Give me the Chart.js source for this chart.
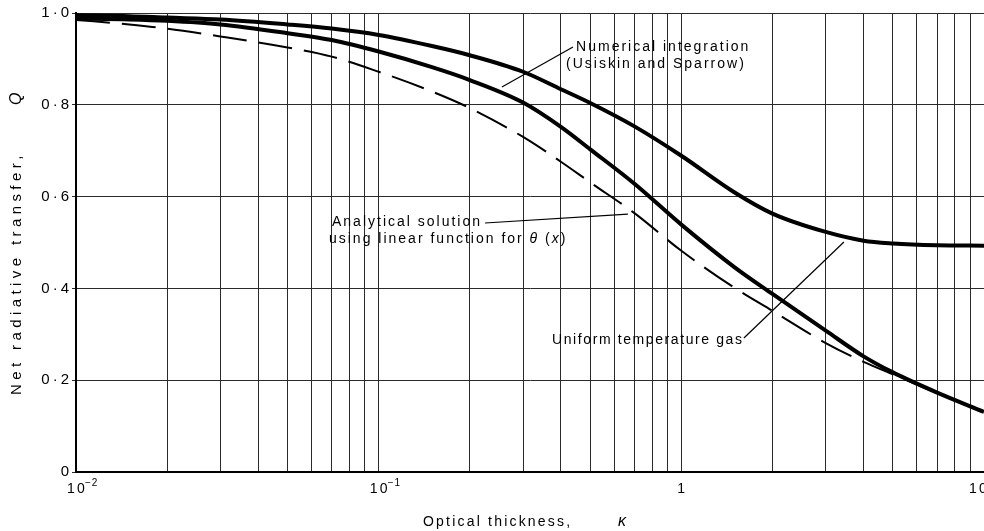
<!DOCTYPE html>
<html>
<head>
<meta charset="utf-8">
<script src="https://cdn.jsdelivr.net/npm/chart.js@4/dist/chart.umd.min.js"></script>
<style>
  html, body { margin: 0; padding: 0; background: #fff; }
  #wrap { width: 984px; height: 531px; }
</style>
</head>
<body>
<div id="wrap"><canvas id="chart" width="984" height="531"></canvas></div>
<script>
// values (kappa on a log axis)
const kappa = [0.01, 0.015, 0.02, 0.03, 0.05, 0.07, 0.1, 0.15, 0.2, 0.3, 0.4, 0.5, 0.7, 1, 1.5, 2, 3, 4, 5, 7, 10]
const uniformGas = [0.995, 0.993, 0.990, 0.986, 0.975, 0.966, 0.952, 0.928, 0.908, 0.872, 0.834, 0.804, 0.753, 0.689, 0.609, 0.563, 0.523, 0.504, 0.498, 0.494, 0.493]
const numerical = [0.988, 0.986, 0.983, 0.975, 0.956, 0.941, 0.916, 0.882, 0.854, 0.805, 0.752, 0.703, 0.628, 0.539, 0.446, 0.388, 0.308, 0.252, 0.217, 0.173, 0.131]
const analytical = [0.985, 0.975, 0.966, 0.949, 0.925, 0.905, 0.872, 0.829, 0.793, 0.730, 0.676, 0.631, 0.564, 0.482, 0.401, 0.351, 0.281, 0.240, 0.213, 0.172, 0.131]

const yTickLabels = ['0', '0·2', '0·4', '0·6', '0·8', '1·0']
const xTickValues = [0.01, 0.1, 1, 10]
const xTickLabels = ['10^-2', '10^-1', '1', '10']

const FONT = '"Liberation Sans", Arial, sans-serif'
const INK = '#000'

const toPoints = ys => kappa.map((k, i) => ({ x: k, y: ys[i] }))

// grid at 1..9 x each decade
const gridValues = []
for (const d of [0.01, 0.1, 1]) {
  for (let m = 1; m <= 9; m++) gridValues.push(+(m * d).toPrecision(3))
}
gridValues.push(10)

// callouts, anchored in data coordinates
const callouts = [
  { lines: [[{ t: 'Numerical integration' }], [{ t: '(Usiskin and Sparrow)' }]],
    at: [0.449, 0.926], indent: [0, -10], spacing: 2.0, leader: [[0.4385, 0.926], [0.2554, 0.839]] },
  { lines: [[{ t: 'Analytical solution' }],
            [{ t: 'using linear function for ' }, { t: 'θ', it: true }, { t: ' (' }, { t: 'x', it: true }, { t: ')' }]],
    at: [0.0701, 0.545], indent: [0, -3], spacing: 2.0, leader: [[0.2245, 0.5425], [0.666, 0.562]] },
  { lines: [[{ t: 'Uniform temperature gas' }]],
    at: [0.3737, 0.2876], indent: [0], spacing: 1.6, leader: [[1.61, 0.292], [3.445, 0.501]] }
]

function drawParts(ctx, parts, x, y, size) {
  let cx = x
  for (const p of parts) {
    ctx.font = (p.it ? 'italic ' : '') + size + 'px ' + FONT
    ctx.fillText(p.t, cx, y)
    cx += ctx.measureText(p.t).width
  }
  return cx
}

const textLayer = {
  id: 'textLayer',
  beforeDraw(chart) {
    chart.ctx.letterSpacing = '3px'
  },
  afterDraw(chart) {
    const { ctx, scales: { x, y }, chartArea } = chart
    ctx.save()
    ctx.fillStyle = INK
    ctx.strokeStyle = INK
    ctx.textBaseline = 'middle'
    ctx.letterSpacing = '2.2px'

    // x tick labels with superscript exponents
    xTickValues.forEach((v, i) => {
      const [base, exp] = xTickLabels[i].split('^')
      ctx.font = '14px ' + FONT
      const bw = ctx.measureText(base).width
      let px = x.getPixelForValue(v)
      px = Math.min(px, chart.width - bw / 2 + 4)
      const ty = chartArea.bottom + 17
      ctx.textAlign = 'left'
      ctx.fillText(base, px - bw / 2 + 1, ty)
      if (exp) {
        ctx.font = '10px ' + FONT
        ctx.letterSpacing = '1px'
        ctx.fillText(exp.replace('-', '−'), px + bw / 2 - 1, ty - 6)
        ctx.letterSpacing = '2.2px'
      }
    })

    // x axis title
    ctx.textAlign = 'left'
    ctx.font = '14px ' + FONT
    ctx.fillText('Optical thickness,', 423, 522)
    ctx.font = 'italic 16px ' + FONT
    ctx.fillText('κ', 618, 522)

    // y axis title
    ctx.save()
    ctx.translate(17, 0)
    ctx.rotate(-Math.PI / 2)
    ctx.letterSpacing = '4.4px'
    ctx.font = '15px ' + FONT
    ctx.fillText('Net radiative transfer,', -395, 0)
    ctx.font = 'italic 16px ' + FONT
    ctx.fillText('Q', -105, 0)
    ctx.restore()

    // callouts
    ctx.lineWidth = 1.2
    for (const c of callouts) {
      const ax = x.getPixelForValue(c.at[0])
      const ay = y.getPixelForValue(c.at[1])
      ctx.letterSpacing = c.spacing + 'px'
      c.lines.forEach((parts, i) => {
        drawParts(ctx, parts, ax + c.indent[i], ay + i * 17, 14)
      })
      const [p0, p1] = c.leader
      ctx.beginPath()
      ctx.moveTo(x.getPixelForValue(p0[0]), y.getPixelForValue(p0[1]))
      ctx.lineTo(x.getPixelForValue(p1[0]), y.getPixelForValue(p1[1]))
      ctx.stroke()
    }
    ctx.restore()
  }
}

const lineStyle = {
  borderColor: '#000',
  pointRadius: 0,
  cubicInterpolationMode: 'monotone',
  fill: false
}

new Chart(document.getElementById('chart'), {
  type: 'line',
  data: {
    datasets: [
      { ...lineStyle, label: 'Uniform temperature gas', data: toPoints(uniformGas), borderWidth: 4 },
      { ...lineStyle, label: 'Numerical integration (Usiskin and Sparrow)', data: toPoints(numerical), borderWidth: 4 },
      { ...lineStyle, label: 'Analytical solution', data: toPoints(analytical), borderWidth: 2, borderDash: [34, 12] }
    ]
  },
  options: {
    responsive: false,
    animation: false,
    devicePixelRatio: 1,
    layout: { padding: { top: 13, right: 0, bottom: 0, left: 0 } },
    plugins: {
      legend: { display: false },
      title: { display: false },
      tooltip: { enabled: false }
    },
    scales: {
      x: {
        type: 'logarithmic',
        min: 0.01,
        max: 10,
        afterBuildTicks: s => { s.ticks = gridValues.map(v => ({ value: v })) },
        afterFit: s => { s.height = 59 },
        ticks: { display: false },
        grid: { color: '#2a2a2a', lineWidth: 1, drawTicks: false },
        border: { color: INK, width: 2 }
      },
      y: {
        min: 0,
        max: 1,
        afterFit: s => { s.width = 76 },
        ticks: {
          stepSize: 0.2,
          color: INK,
          padding: 0,
          font: { family: FONT, size: 15 },
          callback: v => yTickLabels[Math.round(v / 0.2)]
        },
        grid: { color: '#2a2a2a', lineWidth: 1, tickLength: 4 },
        border: { color: INK, width: 2 }
      }
    }
  },
  plugins: [textLayer]
})
</script>
</body>
</html>
